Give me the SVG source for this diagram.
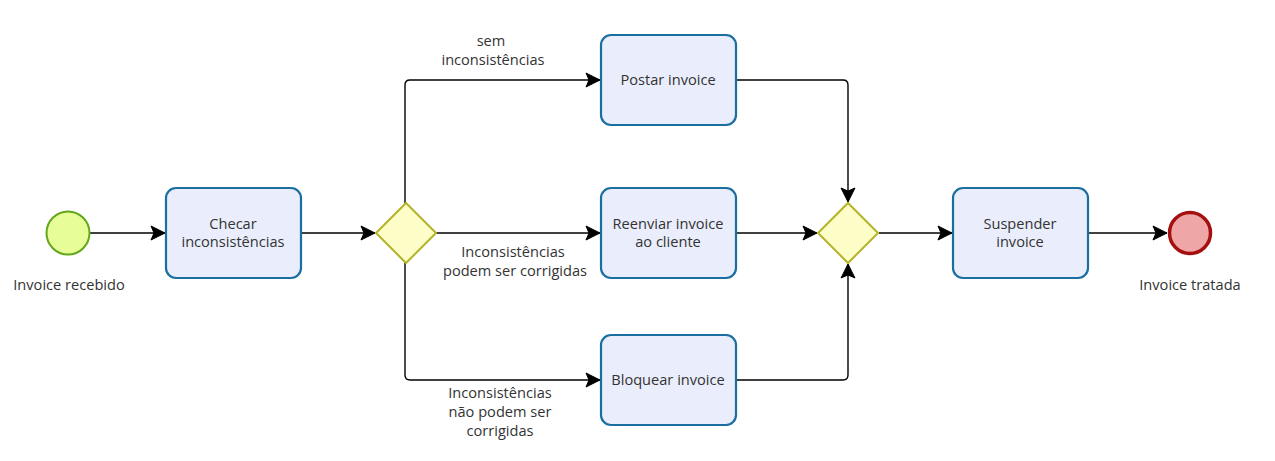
<svg xmlns="http://www.w3.org/2000/svg" width="1275" height="461" viewBox="0 0 1275 461">
<defs>
<marker id="arr" viewBox="0 0 20 20" refX="15" refY="10" markerWidth="20" markerHeight="20" markerUnits="userSpaceOnUse" orient="auto">
<path d="M1,3 L15,10 L1,17 L4,10 Z" fill="#000" stroke="#000" stroke-width="1"/>
</marker>
</defs>
<style>
.task{fill:#eaeefc;stroke:#1a6fa0;stroke-width:2.2}
.gw{fill:#fdfdc8;stroke:#b3b32a;stroke-width:2}
.flow{fill:none;stroke:#000;stroke-width:1.4;marker-end:url(#arr)}
text{font-family:"Open Sans","Noto Sans","DejaVu Sans",sans-serif;font-size:14.6px;fill:#333;text-anchor:middle}
</style>
<rect width="1275" height="461" fill="#fff"/>
<g id="connectors">
<path class="flow" d="M90,233 H165"/>
<path class="flow" d="M301,233 H375"/>
<path class="flow" d="M405,203 V85 Q405,80 410,80 H600"/>
<path class="flow" d="M436,233 H600"/>
<path class="flow" d="M405,263 V375 Q405,380 410,380 H600"/>
<path class="flow" d="M736,80 H843 Q848,80 848,85 V202"/>
<path class="flow" d="M736,233 H817"/>
<path class="flow" d="M736,380 H843 Q848,380 848,375 V264"/>
<path class="flow" d="M879,233 H952"/>
<path class="flow" d="M1088,233 H1167"/>
<text x="491" y="46">sem</text>
<text x="493" y="65">inconsistências</text>
<text x="513" y="257">Inconsistências</text>
<text x="515" y="276">podem ser corrigidas</text>
<text x="500" y="398">Inconsistências</text>
<text x="500" y="417">não podem ser</text>
<text x="500" y="436">corrigidas</text>
</g>
<g id="start">
<circle cx="68" cy="233" r="21.5" fill="#e6fd98" stroke="#62a61a" stroke-width="2"/>
<text x="69" y="290">Invoice recebido</text>
</g>
<g id="checar">
<rect class="task" x="166" y="188" width="135" height="90" rx="10"/>
<text x="233" y="229">Checar</text>
<text x="233" y="247">inconsistências</text>
</g>
<g id="gw1">
<path class="gw" d="M406,203 L436,233 L406,263 L376,233 Z"/>
</g>
<g id="postar">
<rect class="task" x="601" y="35" width="135" height="90" rx="10"/>
<text x="668" y="85">Postar invoice</text>
</g>
<g id="reenviar">
<rect class="task" x="601" y="188" width="135" height="90" rx="10"/>
<text x="668" y="229">Reenviar invoice</text>
<text x="668" y="247">ao cliente</text>
</g>
<g id="bloquear">
<rect class="task" x="601" y="335" width="135" height="90" rx="10"/>
<text x="668" y="385">Bloquear invoice</text>
</g>
<g id="gw2">
<path class="gw" d="M848,203 L878,233 L848,263 L818,233 Z"/>
</g>
<g id="suspender">
<rect class="task" x="953" y="188" width="135" height="90" rx="10"/>
<text x="1020" y="229">Suspender</text>
<text x="1020" y="247">invoice</text>
</g>
<g id="end">
<circle cx="1190" cy="233" r="20.5" fill="#eea6a6" stroke="#a50f0f" stroke-width="3.5"/>
<text x="1190" y="290">Invoice tratada</text>
</g>
</svg>
